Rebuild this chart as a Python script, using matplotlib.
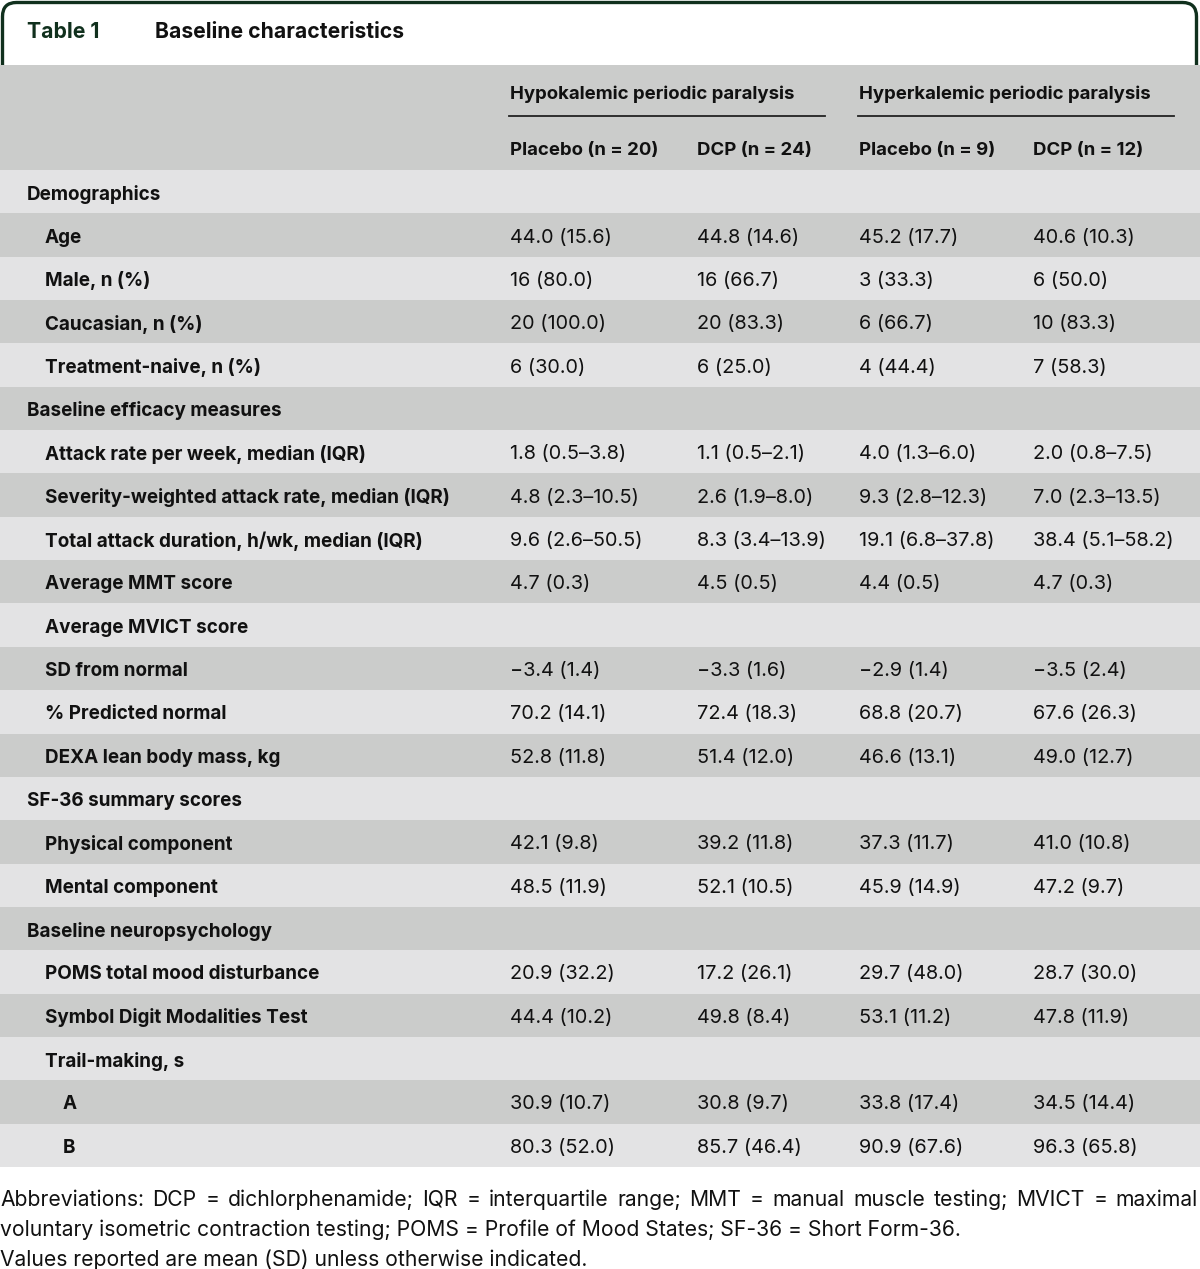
import matplotlib.pyplot as plt
from matplotlib.patches import Rectangle, FancyBboxPatch

# table content
labels = [
    "Demographics", "Age", "Male, n (%)", "Caucasian, n (%)", "Treatment-naive, n (%)",
    "Baseline efficacy measures", "Attack rate per week, median (IQR)",
    "Severity-weighted attack rate, median (IQR)", "Total attack duration, h/wk, median (IQR)",
    "Average MMT score", "Average MVICT score", "SD from normal", "% Predicted normal",
    "DEXA lean body mass, kg", "SF-36 summary scores", "Physical component",
    "Mental component", "Baseline neuropsychology", "POMS total mood disturbance",
    "Symbol Digit Modalities Test", "Trail-making, s", "A", "B",
]
indent = [0, 1, 1, 1, 1, 0, 1, 1, 1, 1, 1, 1, 1, 1, 0, 1, 1, 0, 1, 1, 1, 2, 2]

hypo_placebo = ["", "44.0 (15.6)", "16 (80.0)", "20 (100.0)", "6 (30.0)", "",
                "1.8 (0.5\u20133.8)", "4.8 (2.3\u201310.5)", "9.6 (2.6\u201350.5)", "4.7 (0.3)", "",
                "\u22123.4 (1.4)", "70.2 (14.1)", "52.8 (11.8)", "", "42.1 (9.8)", "48.5 (11.9)", "",
                "20.9 (32.2)", "44.4 (10.2)", "", "30.9 (10.7)", "80.3 (52.0)"]
hypo_dcp = ["", "44.8 (14.6)", "16 (66.7)", "20 (83.3)", "6 (25.0)", "",
            "1.1 (0.5\u20132.1)", "2.6 (1.9\u20138.0)", "8.3 (3.4\u201313.9)", "4.5 (0.5)", "",
            "\u22123.3 (1.6)", "72.4 (18.3)", "51.4 (12.0)", "", "39.2 (11.8)", "52.1 (10.5)", "",
            "17.2 (26.1)", "49.8 (8.4)", "", "30.8 (9.7)", "85.7 (46.4)"]
hyper_placebo = ["", "45.2 (17.7)", "3 (33.3)", "6 (66.7)", "4 (44.4)", "",
                 "4.0 (1.3\u20136.0)", "9.3 (2.8\u201312.3)", "19.1 (6.8\u201337.8)", "4.4 (0.5)", "",
                 "\u22122.9 (1.4)", "68.8 (20.7)", "46.6 (13.1)", "", "37.3 (11.7)", "45.9 (14.9)", "",
                 "29.7 (48.0)", "53.1 (11.2)", "", "33.8 (17.4)", "90.9 (67.6)"]
hyper_dcp = ["", "40.6 (10.3)", "6 (50.0)", "10 (83.3)", "7 (58.3)", "",
             "2.0 (0.8\u20137.5)", "7.0 (2.3\u201313.5)", "38.4 (5.1\u201358.2)", "4.7 (0.3)", "",
             "\u22123.5 (2.4)", "67.6 (26.3)", "49.0 (12.7)", "", "41.0 (10.8)", "47.2 (9.7)", "",
             "28.7 (30.0)", "47.8 (11.9)", "", "34.5 (14.4)", "96.3 (65.8)"]

groups = ["Hypokalemic periodic paralysis", "Hyperkalemic periodic paralysis"]
subheads = ["Placebo (n = 20)", "DCP (n = 24)", "Placebo (n = 9)", "DCP (n = 12)"]

footnote1 = ("Abbreviations: DCP = dichlorphenamide; IQR = interquartile range; MMT = manual "
             "muscle testing; MVICT = maximal")
footnote2 = ("voluntary isometric contraction testing; POMS = Profile of Mood States; "
             "SF-36 = Short Form-36.")
footnote3 = "Values reported are mean (SD) unless otherwise indicated."

W, H = 1200, 1269
fig = plt.figure(figsize=(W / 100, H / 100), dpi=100)
ax = fig.add_axes([0, 0, 1, 1])
ax.set_xlim(0, W)
ax.set_ylim(H, 0)
ax.axis("off")

FONT = "Inter"
green = "#10301d"
ink = "#111111"
light = "#e3e3e4"
dark = "#cbcccb"
fs_head = 13.4
fs_lab = 13.6
fs_val = 14.3
fs_foot = 15.2
dy = 2.5  # nudge text down a bit

# title tab frame
ax.add_patch(FancyBboxPatch((2.5, 2.5), 1194, 140, boxstyle="round,pad=0,rounding_size=14",
                            fc="white", ec=green, lw=2.4, zorder=1))
ax.text(27, 30 + dy, "Table 1", fontsize=15.3, fontweight="bold", color=green, family=FONT,
        va="center", zorder=3)
ax.text(155, 30 + dy, "Baseline characteristics", fontsize=15.2, fontweight="bold", color=ink,
        family=FONT, va="center", zorder=3)

# header band
top = 65
ax.add_patch(Rectangle((0, top), W, 105, fc=dark, ec="none", zorder=2))
col_x = [510, 697, 859, 1033]
ax.text(col_x[0], 92 + dy, groups[0], fontsize=fs_head, fontweight="bold", family=FONT,
        va="center", color=ink, zorder=3)
ax.text(col_x[2], 92 + dy, groups[1], fontsize=fs_head, fontweight="bold", family=FONT,
        va="center", color=ink, zorder=3)
ax.plot([509, 825], [115.5, 115.5], color="#222222", lw=1.3, zorder=3)
ax.plot([858, 1174], [115.5, 115.5], color="#222222", lw=1.3, zorder=3)
for x, s in zip(col_x, subheads):
    ax.text(x, 148 + dy, s, fontsize=fs_head, fontweight="bold", family=FONT, va="center",
            color=ink, zorder=3)

# body rows
y0 = 170
rh = (1167 - 170) / len(labels)
cols = [hypo_placebo, hypo_dcp, hyper_placebo, hyper_dcp]
for i, lab in enumerate(labels):
    y = y0 + i * rh
    ax.add_patch(Rectangle((0, y), W, rh, fc=light if i % 2 == 0 else dark, ec="none", zorder=2))
    yc = y + rh / 2 + dy
    ax.text(27 + 18 * indent[i], yc, lab, fontsize=fs_lab, fontweight="bold", family=FONT,
            va="center", color=ink, zorder=3)
    for x, col in zip(col_x, cols):
        ax.text(x, yc, col[i], fontsize=fs_val, family=FONT, va="center", color=ink, zorder=3)

# footnote, first line justified
fig.canvas.draw()
renderer = fig.canvas.get_renderer()


def justified(line, y, x0=0, x1=1198):
    words = line.split(" ")
    arts = [ax.text(0, y, w, fontsize=fs_foot, family=FONT, va="center", color=ink)
            for w in words]
    widths = [a.get_window_extent(renderer).width for a in arts]
    gap = ((x1 - x0) - sum(widths)) / (len(words) - 1)
    x = x0
    for a, w in zip(arts, widths):
        a.set_x(x)
        x += w + gap


justified(footnote1, 1197 + dy)
ax.text(0, 1227 + dy, footnote2, fontsize=fs_foot, family=FONT, va="center", color=ink)
ax.text(0, 1257 + dy, footnote3, fontsize=fs_foot, family=FONT, va="center", color=ink)

fig.savefig("out.png", dpi=100)
